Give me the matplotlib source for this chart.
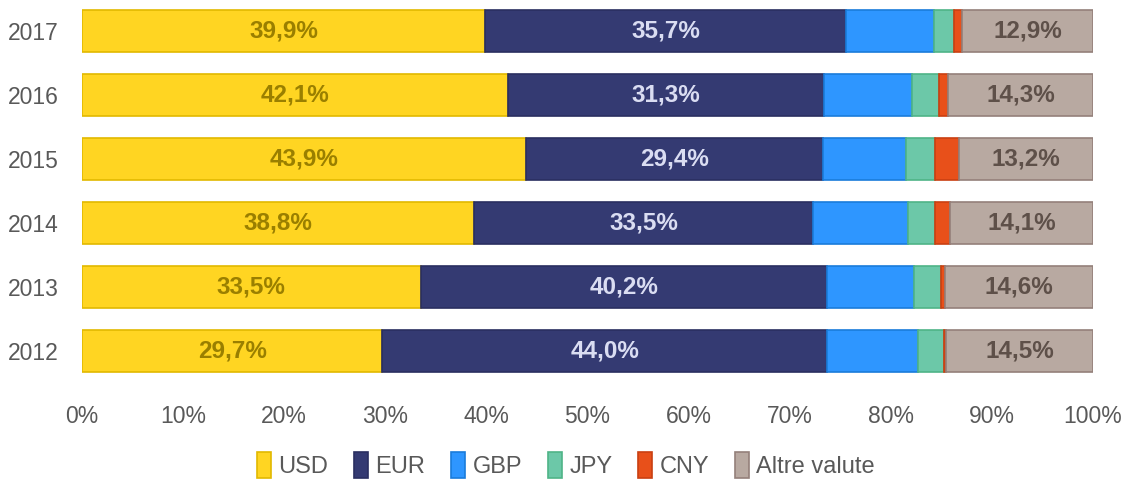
import numpy as np
import matplotlib.pyplot as plt
import matplotlib.font_manager as fm

years = ["2012", "2013", "2014", "2015", "2016", "2017"]
usd = [29.7, 33.5, 38.8, 43.9, 42.1, 39.9]
eur = [44.0, 40.2, 33.5, 29.4, 31.3, 35.7]
gbp = [9.0, 8.6, 9.4, 8.2, 8.7, 8.7]
jpy = [2.6, 2.7, 2.7, 2.9, 2.7, 2.0]
cny = [0.2, 0.4, 1.5, 2.4, 0.9, 0.8]
altre = [14.5, 14.6, 14.1, 13.2, 14.3, 12.9]

series = ["USD", "EUR", "GBP", "JPY", "CNY", "Altre valute"]
values = [usd, eur, gbp, jpy, cny, altre]
colors = ["#FFD522", "#343A72", "#2E96FF", "#6CC8A8", "#E8501A", "#B8A9A1"]
edges = ["#E2B900", "#2A2F60", "#1A7CDA", "#4FB487", "#C94012", "#94807A"]
label_colors = ["#9A7F00", "#DADDF2", None, None, None, "#5E5049"]

names = {f.name for f in fm.fontManager.ttflist}
fam = "Liberation Sans Narrow" if "Liberation Sans Narrow" in names else "Liberation Sans"
plt.rcParams["font.family"] = [fam, "DejaVu Sans"]

fig = plt.figure(figsize=(11.32, 4.82), dpi=100)
ax = fig.add_axes([0.0724, 0.205, 0.893, 0.797])

y = np.arange(len(years))
left = np.zeros(len(years))
for name, vals, c, ec, lc in zip(series, values, colors, edges, label_colors):
    vals = np.array(vals)
    ax.barh(y, vals, left=left, height=0.66, color=c, edgecolor=ec,
            linewidth=1.2, label=name)
    if lc is not None:
        for yi, l, v in zip(y, left, vals):
            ax.text(l + v / 2, yi, f"{v:.1f}%".replace(".", ","), ha="center",
                    va="center", fontsize=17.5, fontweight="bold", color=lc,
                    family=["Liberation Sans", "DejaVu Sans"])
    left = left + vals

ax.set_xlim(0, 100)
ax.set_ylim(-0.5, 5.5)
ax.set_xticks(np.arange(0, 101, 10))
ax.set_xticklabels([f"{t}%" for t in range(0, 101, 10)], fontsize=16.5, color="#595959")
ax.set_yticks(y)
ax.set_yticklabels(years, fontsize=16.5, color="#595959")
ax.tick_params(length=0)
ax.tick_params(axis="y", pad=17)
ax.tick_params(axis="x", pad=16)
for s in ax.spines.values():
    s.set_visible(False)

leg = fig.legend(loc="lower center", bbox_to_anchor=(0.5, -0.036), ncol=6,
                 frameon=False, fontsize=17, handlelength=0.6, handleheight=1.3,
                 handletextpad=0.3, columnspacing=1.1)
for t in leg.get_texts():
    t.set_color("#595959")

fig.savefig("out.png", dpi=100)
